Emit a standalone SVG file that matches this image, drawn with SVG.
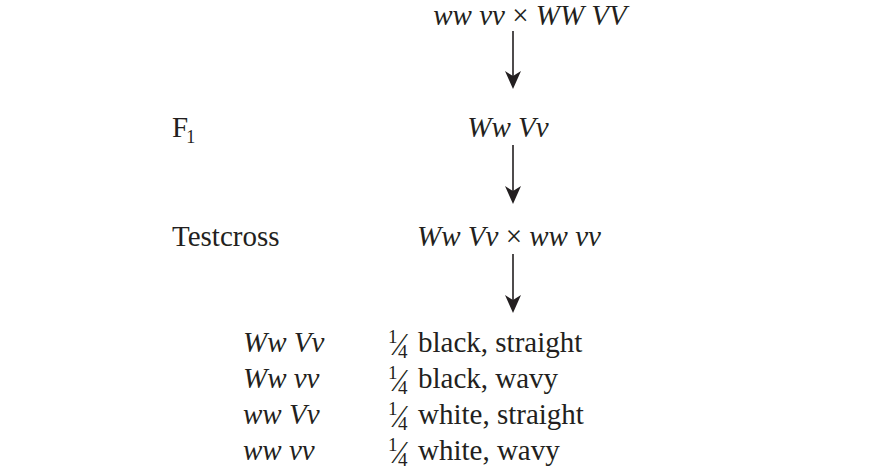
<svg xmlns="http://www.w3.org/2000/svg" width="887" height="469" viewBox="0 0 887 469">
<defs>
<path id="head" d="M0,0 L-8,-18 L0,-13 L8,-18 Z" fill="#231f20"/>
</defs>
<rect width="887" height="469" fill="#fff"/>
<g id="parents"><text font-family="Liberation Serif" font-size="29" fill="#231f20" font-style="italic" x="530" y="25" text-anchor="middle">ww vv<tspan font-style="normal"> × </tspan>WW VV</text></g>
<g id="f1-label"><text font-family="Liberation Serif" font-size="29" fill="#231f20" x="172" y="137">F<tspan font-size="18" dx="-2" dy="6">1</tspan></text></g>
<g id="f1"><text font-family="Liberation Serif" font-size="29" fill="#231f20" font-style="italic" x="508" y="137" text-anchor="middle">Ww Vv</text></g>
<g id="testcross-label"><text font-family="Liberation Serif" font-size="29" fill="#231f20" x="172" y="246">Testcross</text></g>
<g id="testcross"><text font-family="Liberation Serif" font-size="29" fill="#231f20" font-style="italic" x="509" y="246" text-anchor="middle">Ww Vv<tspan font-style="normal"> × </tspan>ww vv</text></g>
<g id="offspring" font-family="Liberation Serif" font-size="29" fill="#231f20" font-style="italic">
<text x="243" y="352">Ww Vv</text>
<text x="243" y="388">Ww vv</text>
<text x="243" y="424">ww Vv</text>
<text x="243" y="460">ww vv</text>
</g>
<g id="ratios" font-family="Liberation Serif" font-size="29" fill="#231f20">
<text><tspan x="388" y="343" font-size="19">1</tspan><tspan x="397" y="355" font-size="32">⁄</tspan><tspan x="398" y="358" font-size="19">4</tspan><tspan x="418" y="352">black, straight</tspan></text>
<text><tspan x="388" y="379" font-size="19">1</tspan><tspan x="397" y="391" font-size="32">⁄</tspan><tspan x="398" y="394" font-size="19">4</tspan><tspan x="418" y="388">black, wavy</tspan></text>
<text><tspan x="388" y="415" font-size="19">1</tspan><tspan x="397" y="427" font-size="32">⁄</tspan><tspan x="398" y="430" font-size="19">4</tspan><tspan x="418" y="424">white, straight</tspan></text>
<text><tspan x="388" y="451" font-size="19">1</tspan><tspan x="397" y="463" font-size="32">⁄</tspan><tspan x="398" y="466" font-size="19">4</tspan><tspan x="418" y="460">white, wavy</tspan></text>
</g>
<g id="connectors" stroke="#231f20" stroke-width="1.6">
<line x1="513" y1="31" x2="513" y2="80"/>
<use href="#head" x="513" y="89" stroke="none"/>
<line x1="513" y1="145" x2="513" y2="195"/>
<use href="#head" x="513" y="204" stroke="none"/>
<line x1="513" y1="254" x2="513" y2="304"/>
<use href="#head" x="513" y="313" stroke="none"/>
</g>
</svg>
